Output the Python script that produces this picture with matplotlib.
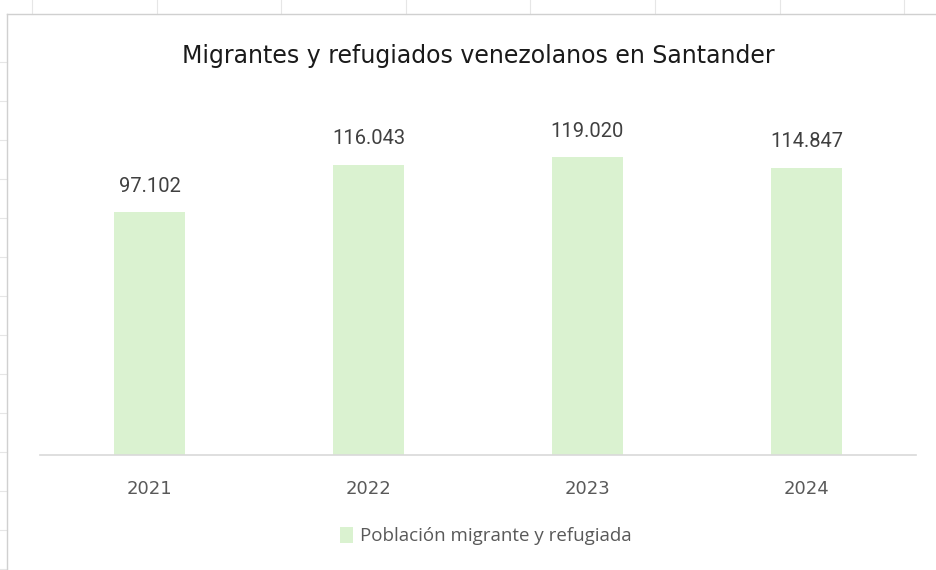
import matplotlib.pyplot as plt
from matplotlib.lines import Line2D

# datos
anios = ['2021', '2022', '2023', '2024']
poblacion = [97102, 116043, 119020, 114847]
serie = 'Población migrante y refugiada'
titulo = 'Migrantes y refugiados venezolanos en Santander'

verde = '#DAF2D0'
gris_texto = '#595959'

fig = plt.figure(figsize=(9.36, 5.7), dpi=100)
fig.patch.set_facecolor('white')

# restos de la cuadricula de la hoja de calculo alrededor del grafico
for x in [32, 157, 281, 406, 530, 655, 780, 904]:
    fig.add_artist(Line2D([x / 936, x / 936], [1 - 0 / 570, 1 - 14 / 570],
                          transform=fig.transFigure, color='#E6E6E6', lw=0.8))
for y in range(62, 570, 39):
    fig.add_artist(Line2D([0, 7 / 936], [1 - y / 570, 1 - y / 570],
                          transform=fig.transFigure, color='#E6E6E6', lw=0.8))
# borde del area del grafico
fig.add_artist(Line2D([7 / 936, 1], [1 - 14 / 570, 1 - 14 / 570],
                      transform=fig.transFigure, color='#D0D0D0', lw=1))
fig.add_artist(Line2D([7 / 936, 7 / 936], [0, 1 - 14 / 570],
                      transform=fig.transFigure, color='#D0D0D0', lw=1))

ax = fig.add_axes([40 / 936, 115 / 570, 876 / 936, 350 / 570])
x = range(len(anios))
barras = ax.bar(x, poblacion, width=0.32, color=verde, label=serie)

ax.set_xlim(-0.5, 3.5)
ax.set_ylim(0, 140000)
ax.set_xticks(list(x))
ax.set_xticklabels(anios, fontsize=13, color=gris_texto)
ax.tick_params(axis='x', length=0, pad=18)
ax.set_yticks([])
for lado in ['top', 'right', 'left']:
    ax.spines[lado].set_visible(False)
ax.spines['bottom'].set_color('#D9D9D9')
ax.spines['bottom'].set_linewidth(1.2)

# etiquetas con separador de miles estilo espanol
etiquetas = [f'{v:,}'.replace(',', '.') for v in poblacion]
ax.bar_label(barras, labels=etiquetas, padding=12, fontsize=14.5,
             color='#404040', family=['Roboto', 'DejaVu Sans'])

fig.text(478 / 936, 1 - 56 / 570, titulo, ha='center', va='center',
         fontsize=17, color='#1a1a1a')

fig.legend(loc='center', bbox_to_anchor=(486 / 936, 1 - 536 / 570),
           frameon=False, handlelength=0.7, handleheight=1.0,
           handletextpad=0.35, labelcolor=gris_texto,
           prop={'family': ['Open Sans', 'DejaVu Sans'], 'size': 13.5})

fig.savefig('out.png', dpi=100, facecolor='white')
